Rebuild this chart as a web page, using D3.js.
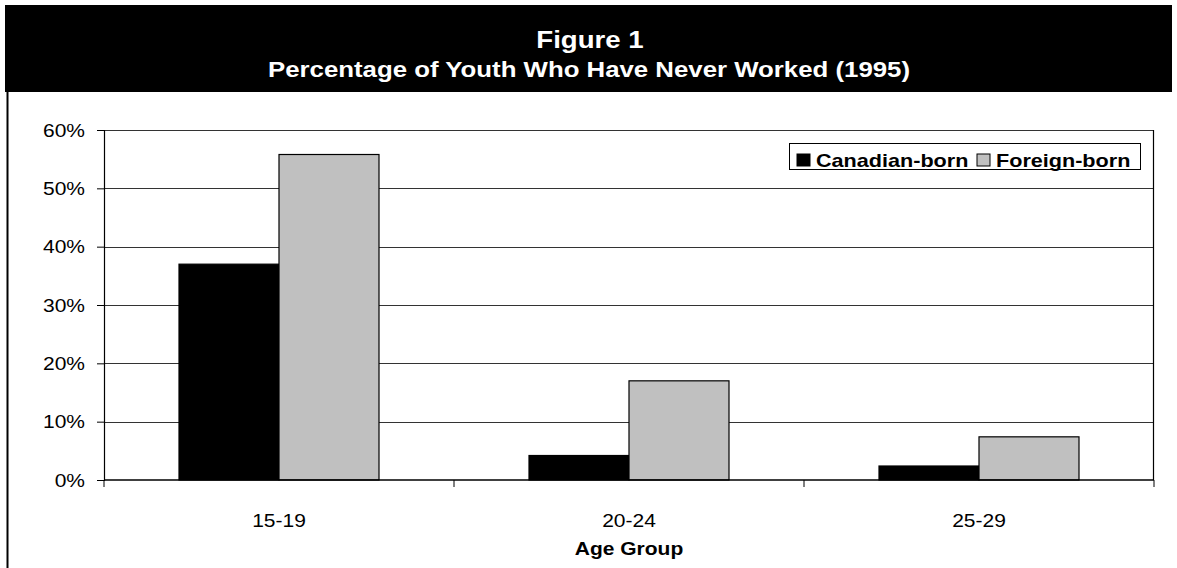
<!DOCTYPE html>
<html>
<head>
<meta charset="utf-8">
<script src="https://cdn.jsdelivr.net/npm/d3@7"></script>
<style>
  html, body { margin: 0; padding: 0; background: #fff; }
  svg { display: block; }
  text { font-family: "Liberation Sans", Arial, sans-serif; }
</style>
</head>
<body>
<div id="chart"></div>
<script>
// Age groups along the x axis
const categories = ["15-19", "20-24", "25-29"];
// Series names (legend order)
const seriesNames = ["Canadian-born", "Foreign-born"];
// Percentage who have never worked, by age group
const canadianBorn = [37.0, 4.2, 2.4];
const foreignBorn = [55.8, 17.0, 7.4];
// Y axis ticks (percent)
const yTicks = [0, 10, 20, 30, 40, 50, 60];

const titleText = "Figure 1";
const subtitleText = "Percentage of Youth Who Have Never Worked (1995)";
const xAxisTitle = "Age Group";

const W = 1177, H = 568;
const STRETCH = 1.2; // text is set slightly wide
const plot = { left: 104, right: 1154, top: 130, bottom: 480 };
const fills = { "Canadian-born": "#000000", "Foreign-born": "#c0c0c0" };

const rows = categories.map((c, i) => ({
  category: c,
  values: [
    { key: "Canadian-born", value: canadianBorn[i] },
    { key: "Foreign-born", value: foreignBorn[i] }
  ]
}));

const svg = d3.select("#chart").append("svg")
  .attr("width", W).attr("height", H);

// wide-set text helper
function wideText(g, x, y, str, opts = {}) {
  return g.append("text")
    .attr("transform", `translate(${x},${y}) scale(${STRETCH},1)`)
    .attr("text-anchor", opts.anchor || "middle")
    .attr("font-size", opts.size || 17.5)
    .attr("font-weight", opts.weight || "normal")
    .attr("fill", opts.fill || "#000")
    .text(str);
}

// Header band
svg.append("rect").attr("x", 5).attr("y", 5).attr("width", 1167).attr("height", 87).attr("fill", "#000");
wideText(svg, 590, 48, titleText, { size: 23, weight: "bold", fill: "#fff" });
wideText(svg, 589, 77, subtitleText, { size: 21.5, weight: "bold", fill: "#fff" });

// Left frame rule
svg.append("line").attr("x1", 7.5).attr("x2", 7.5).attr("y1", 92).attr("y2", H)
  .attr("stroke", "#000").attr("stroke-width", 2);

const x = d3.scaleBand().domain(categories).range([plot.left, plot.right]).padding(0);
const x1 = d3.scaleBand().domain(seriesNames).range([0, x.bandwidth()])
  .paddingInner(0).paddingOuter(0.75);
const y = d3.scaleLinear().domain([0, 60]).range([plot.bottom, plot.top]);

// Gridlines
svg.append("g").selectAll("line").data(yTicks.filter(t => t > 0)).join("line")
  .attr("x1", plot.left).attr("x2", plot.right)
  .attr("y1", d => Math.round(y(d)) + 0.5).attr("y2", d => Math.round(y(d)) + 0.5)
  .attr("stroke", "#333").attr("stroke-width", 1);

// Right edge of plot
svg.append("line").attr("x1", plot.right - 0.5).attr("x2", plot.right - 0.5)
  .attr("y1", plot.top).attr("y2", plot.bottom)
  .attr("stroke", "#000").attr("stroke-width", 1.2);

// Bars
const groups = svg.append("g").selectAll("g").data(rows).join("g")
  .attr("transform", d => `translate(${x(d.category)},0)`);
groups.selectAll("rect").data(d => d.values).join("rect")
  .attr("x", d => x1(d.key))
  .attr("y", d => y(d.value))
  .attr("width", x1.bandwidth())
  .attr("height", d => y(0) - y(d.value))
  .attr("fill", d => fills[d.key])
  .attr("stroke", "#000").attr("stroke-width", 1.2);

// Y axis
const yAxis = svg.append("g").attr("transform", `translate(${plot.left},0)`)
  .call(d3.axisLeft(y).tickValues(yTicks).tickSize(7).tickFormat(d => d + "%"));
yAxis.select(".domain").attr("stroke", "#000").attr("stroke-width", 1.2);
yAxis.selectAll(".tick line").attr("stroke", "#000");
yAxis.selectAll(".tick text")
  .attr("x", -19 / STRETCH)
  .attr("dy", "0.36em")
  .attr("transform", `scale(${STRETCH},1)`)
  .attr("font-size", 17.5)
  .attr("font-family", "Liberation Sans, Arial, sans-serif")
  .attr("fill", "#000");

// X axis: ticks at band boundaries
const xAxisG = svg.append("g");
xAxisG.append("line").attr("x1", plot.left).attr("x2", plot.right)
  .attr("y1", plot.bottom).attr("y2", plot.bottom)
  .attr("stroke", "#000").attr("stroke-width", 1.5);
const boundaries = categories.map(c => x(c)).concat([x(categories[categories.length - 1]) + x.bandwidth()]);
xAxisG.selectAll("line.tk").data(boundaries).join("line").attr("class", "tk")
  .attr("x1", d => d).attr("x2", d => d)
  .attr("y1", plot.bottom).attr("y2", plot.bottom + 7)
  .attr("stroke", "#000").attr("stroke-width", 1);
categories.forEach(c => {
  wideText(xAxisG, x(c) + x.bandwidth() / 2, 527, c, { size: 17.5 });
});
wideText(svg, (plot.left + plot.right) / 2, 555, xAxisTitle, { size: 17.5, weight: "bold" });

// Legend
const lg = svg.append("g");
lg.append("rect").attr("x", 789.5).attr("y", 143.5).attr("width", 351).attr("height", 26)
  .attr("fill", "#fff").attr("stroke", "#000").attr("stroke-width", 1);
const legendX = [797, 977];
seriesNames.forEach((s, i) => {
  lg.append("rect").attr("x", legendX[i]).attr("y", 154).attr("width", 13).attr("height", 12)
    .attr("fill", fills[s]).attr("stroke", "#000").attr("stroke-width", 1);
  wideText(lg, legendX[i] + 19, 167, s, { size: 18, weight: "bold", anchor: "start" });
});
</script>
</body>
</html>
